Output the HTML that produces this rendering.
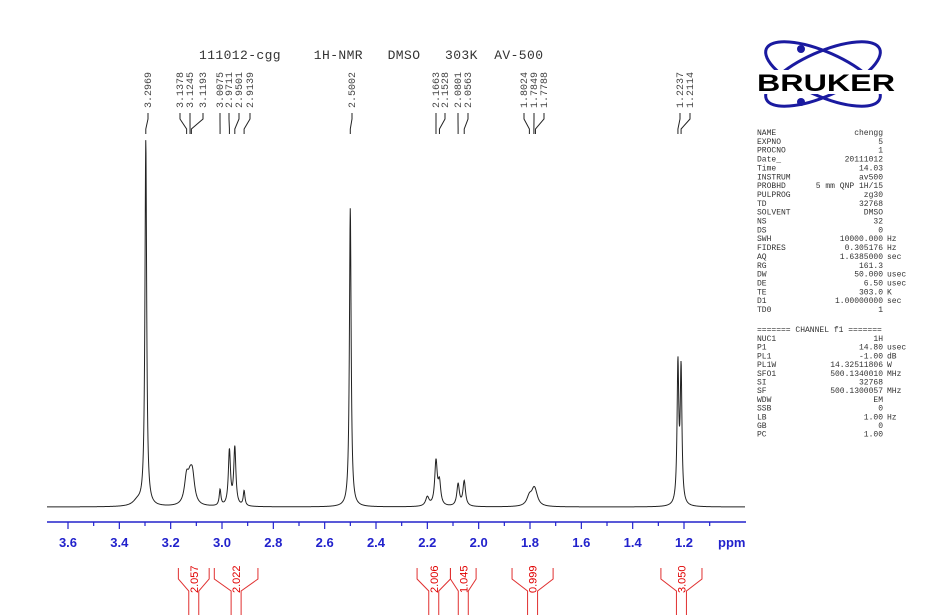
<!DOCTYPE html>
<html><head><meta charset="utf-8"><style>
html,body{margin:0;padding:0;background:#fff;}
svg{display:block;}
.mono{font-family:"Liberation Mono",monospace;white-space:pre;}
</style></head><body>
<svg id="chart" width="929" height="615" viewBox="0 0 929 615" xmlns="http://www.w3.org/2000/svg">
<text x="199" y="59" class="mono" font-size="13" fill="#333" xml:space="preserve" textLength="344">111012-cgg    1H-NMR   DMSO   303K  AV-500</text>
<g id="peaklabels"></g>
<path id="spectrum" fill="none" stroke="#222" stroke-width="1"/>
<g id="axis"></g>
<g id="integrals"></g>
<g>
<ellipse cx="823" cy="74" rx="62" ry="22" transform="rotate(24 823 74)" fill="none" stroke="#1a1aa0" stroke-width="3"/>
<ellipse cx="823" cy="74" rx="62" ry="22" transform="rotate(-24 823 74)" fill="none" stroke="#1a1aa0" stroke-width="3"/>
<circle cx="801" cy="49" r="4" fill="#1a1aa0"/><circle cx="801" cy="102" r="4" fill="#1a1aa0"/>
<rect x="756" y="70" width="140" height="24" fill="#fff"/>
<text x="826" y="91" text-anchor="middle" font-family="Liberation Sans,sans-serif" font-weight="bold" font-size="24" fill="#000" textLength="138" lengthAdjust="spacingAndGlyphs">BRUKER</text>
</g>
<g id="params" class="mono" font-size="8" fill="#333"></g>
</svg>
<script>
const peakPpm=[3.33,3.2969,3.138,3.1245,3.115,3.0075,2.9711,2.9501,2.9139,2.5002,2.20,2.1663,2.1528,2.0801,2.0563,1.8024,1.7849,1.7788,1.2237,1.2114];
const peakHeight=[5,366,26,18,26,16,55,58,15,299,9,44,22,22,25,9,12,7,138,133];
const peakWidth=[0.02,0.004,0.01,0.01,0.01,0.004,0.005,0.005,0.004,0.004,0.008,0.006,0.006,0.006,0.006,0.012,0.012,0.012,0.004,0.004];
const tickValues=[3.6,3.4,3.2,3.0,2.8,2.6,2.4,2.2,2.0,1.8,1.6,1.4,1.2];
const labelValues=["3.2969","3.1378","3.1245","3.1193","3.0075","2.9711","2.9501","2.9139","2.5002","2.1663","2.1528","2.0801","2.0563","1.8024","1.7849","1.7788","1.2237","1.2114"];
const labelX=[148,180,190,203,220,229,239,250,352,436,445,458,468,524,534,544,680,690];
const integralFrom=[3.17,3.03,2.24,2.11,1.87,1.29];
const integralTo=[3.05,2.86,2.11,2.01,1.71,1.13];
const integralValues=["2.057","2.022","2.006","1.045","0.999","3.050"];
const paramRows1=[["NAME","chengg",""],["EXPNO","5",""],["PROCNO","1",""],["Date_","20111012",""],["Time","14.03",""],["INSTRUM","av500",""],["PROBHD","5 mm QNP 1H/15",""],["PULPROG","zg30",""],["TD","32768",""],["SOLVENT","DMSO",""],["NS","32",""],["DS","0",""],["SWH","10000.000","Hz"],["FIDRES","0.305176","Hz"],["AQ","1.6385000","sec"],["RG","161.3",""],["DW","50.000","usec"],["DE","6.50","usec"],["TE","303.0","K"],["D1","1.00000000","sec"],["TD0","1",""]];
const paramRows2=[["NUC1","1H",""],["P1","14.80","usec"],["PL1","-1.00","dB"],["PL1W","14.32511806","W"],["SFO1","500.1340010","MHz"],["SI","32768",""],["SF","500.1300057","MHz"],["WDW","EM",""],["SSB","0",""],["LB","1.00","Hz"],["GB","0",""],["PC","1.00",""]];

const NS="http://www.w3.org/2000/svg";
const X=p=>68+(3.6-p)*256.67;
const BASE=507;
function mk(tag,attrs,parent){const e=document.createElementNS(NS,tag);for(const k in attrs)e.setAttribute(k,attrs[k]);parent.appendChild(e);return e;}

let d="";
for(let px=47;px<=745;px+=0.25){
  const p=3.6-(px-68)/256.67;
  let s=0;
  for(let i=0;i<peakPpm.length;i++){const g=peakWidth[i];const u=(p-peakPpm[i])/g;s+=peakHeight[i]/(1+u*u);}
  d+=(d?"L":"M")+px.toFixed(2)+","+(BASE-s).toFixed(2);
}
document.getElementById('spectrum').setAttribute('d',d);

const ax=document.getElementById('axis');
const axl=mk('line',{x1:47,y1:522,x2:746,y2:522,stroke:'#2222cc','stroke-width':1.5},ax);


for(let v=3.7;v>=1.05;v-=0.1){const x=X(v);if(x<47||x>746)continue;const major=Math.abs(Math.round(v*5)-v*5)<1e-6;
  mk('line',{x1:x,y1:522,x2:x,y2:major?529:526,stroke:'#2222cc','stroke-width':1.2},ax);}
tickValues.forEach(v=>{const t=mk('text',{x:X(v),y:547,'text-anchor':'middle','font-family':'Liberation Sans,sans-serif','font-size':13,'font-weight':'bold',fill:'#2222cc'},ax);t.textContent=v.toFixed(1);
  
  });
const ppm=mk('text',{x:718,y:547,'font-family':'Liberation Sans,sans-serif','font-size':13,'font-weight':'bold',fill:'#2222cc'},ax);ppm.textContent="ppm";



const pl=document.getElementById('peaklabels');
labelValues.forEach((v,i)=>{
  const lx=labelX[i];const px=X(parseFloat(v));
  const t=mk('text',{x:0,y:0,transform:`translate(${lx+3},108) rotate(-90)`,class:'mono','font-size':10,fill:'#444'},pl);
  t.textContent=v;
  
  
  mk('polyline',{points:`${lx},113 ${lx},119 ${px},129 ${px},134`,fill:'none',stroke:'#222','stroke-width':1},pl);
});

const ig=document.getElementById('integrals');
integralValues.forEach((v,i)=>{
  const a=X(integralFrom[i]),b=X(integralTo[i]);const c=(a+b)/2;
  const g=mk('g',{},ig);
  
  
  mk('polyline',{points:`${a},568 ${a},579 ${c-5},591 ${c-5},615`,fill:'none',stroke:'#e03030','stroke-width':1},g);
  mk('polyline',{points:`${b},568 ${b},579 ${c+5},591 ${c+5},615`,fill:'none',stroke:'#e03030','stroke-width':1},g);
  const t=mk('text',{x:0,y:0,transform:`translate(${c+4},593) rotate(-90)`,'font-family':'Liberation Sans,sans-serif','font-size':11,fill:'#e00000'},g);
  t.textContent=v;
});

const pg=document.getElementById('params');
function row(r,y){
  const a=mk('text',{x:757,y:y},pg);a.textContent=r[0];
  const b=mk('text',{x:883,y:y,'text-anchor':'end'},pg);b.textContent=r[1];
  if(r[2]){const c=mk('text',{x:887,y:y},pg);c.textContent=r[2];}
}
paramRows1.forEach((r,i)=>row(r,135+i*8.85));
const ch=mk('text',{x:757,y:332},pg);ch.textContent="======= CHANNEL f1 =======";
paramRows2.forEach((r,i)=>row(r,341+i*8.7));
</script>
</body></html>
